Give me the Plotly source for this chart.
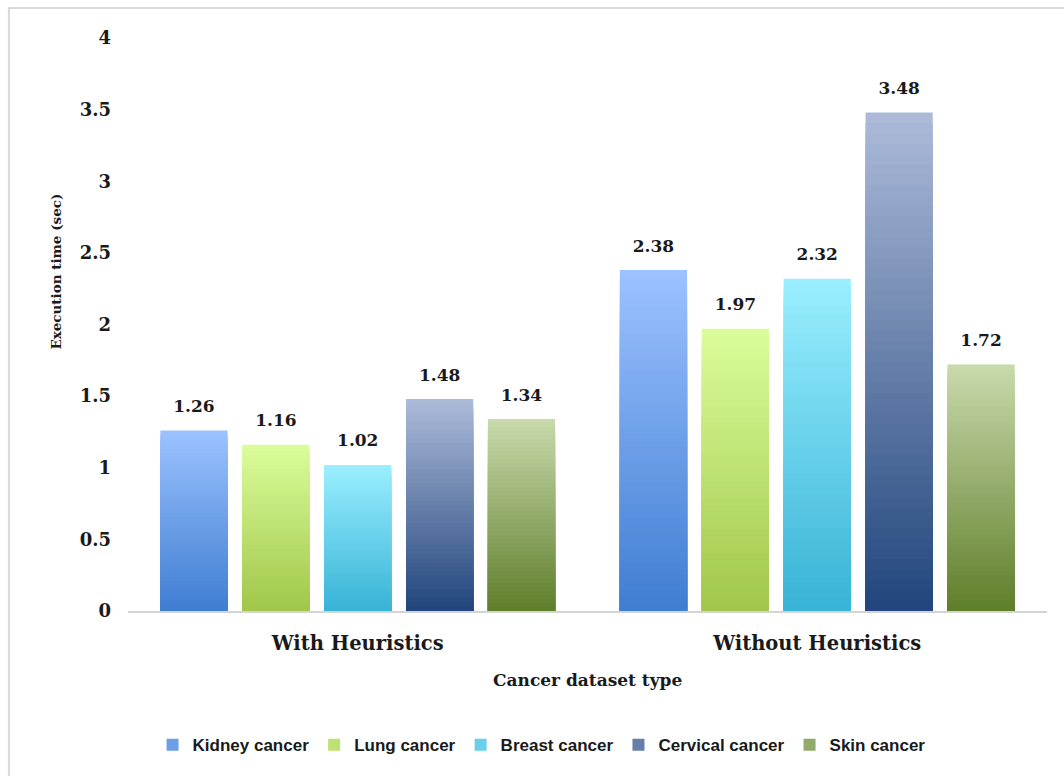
import plotly.graph_objects as go

# Chart data
groups = ["With Heuristics", "Without Heuristics"]
series_names = ["Kidney cancer", "Lung cancer", "Breast cancer", "Cervical cancer", "Skin cancer"]
kidney = [1.26, 2.38]
lung = [1.16, 1.97]
breast = [1.02, 2.32]
cervical = [1.48, 3.48]
skin = [1.34, 1.72]
series_values = [kidney, lung, breast, cervical, skin]

# Vertical gradient colours (top, bottom) for each series
gradient_top = ["#9CC2FF", "#DBFD9B", "#9AEFFF", "#ADBBD9", "#C9DAAC"]
gradient_bottom = ["#3F7DD2", "#A1C64A", "#38B3D6", "#21457C", "#5F7E2A"]

N_STEPS = 48
SERIF = "DejaVu Serif"


def hex_to_rgb(h):
    h = h.lstrip("#")
    return tuple(int(h[i:i + 2], 16) for i in (0, 2, 4))


def blend(c_top, c_bot, t):
    a, b = hex_to_rgb(c_top), hex_to_rgb(c_bot)
    r = [round(b[i] + (a[i] - b[i]) * t) for i in range(3)]
    return f"rgb({r[0]},{r[1]},{r[2]})"


fig = go.Figure()

for s, (name, vals) in enumerate(zip(series_names, series_values)):
    # Each bar is a pile of overlapping bars from zero, tallest first, each
    # shorter one painted over the last, which yields a seamless vertical gradient
    for k in range(N_STEPS):
        frac = (N_STEPS - k) / N_STEPS
        t = (N_STEPS - k - 0.5) / N_STEPS
        fig.add_trace(go.Bar(
            x=groups,
            y=[v * frac for v in vals],
            offsetgroup=str(s),
            legendgroup=name,
            name=name,
            showlegend=(k == N_STEPS // 2),
            legendrank=s + 1,
            marker=dict(color=blend(gradient_top[s], gradient_bottom[s], t), line=dict(width=0)),
            hoverinfo="skip",
        ))
    # Value labels sitting above each bar
    fig.add_trace(go.Bar(
        x=groups,
        y=[0.08 for _ in vals],
        base=vals,
        offsetgroup=str(s),
        legendgroup=name,
        showlegend=False,
        marker=dict(color="rgba(0,0,0,0)", line=dict(width=0)),
        text=[f"{v:.2f}" for v in vals],
        textposition="outside",
        textfont=dict(family=SERIF, size=17, color="#1a1a1a", weight="bold"),
        cliponaxis=False,
        hoverinfo="skip",
    ))

fig.update_layout(
    width=1064,
    height=776,
    margin=dict(l=128, r=17, t=38, b=165),
    paper_bgcolor="white",
    plot_bgcolor="white",
    barmode="group",
    bargap=0.109,
    bargroupgap=0.18,
    showlegend=True,
    legend=dict(
        orientation="h",
        x=0.45, xanchor="center",
        y=-0.234, yanchor="middle",
        font=dict(family="Liberation Sans Narrow, Liberation Sans, sans-serif", size=17, color="#1a1a1a", weight="bold"),
        itemwidth=30,
        tracegroupgap=0,
        traceorder="normal",
    ),
    xaxis=dict(
        showgrid=False,
        zeroline=False,
        showline=True,
        linecolor="#D4D4D4",
        linewidth=2,
        ticks="",
        ticklabelstandoff=14,
        tickfont=dict(family=SERIF, size=19.5, color="#1a1a1a", weight="bold"),
    ),
    yaxis=dict(
        range=[0, 4],
        dtick=0.5,
        showgrid=False,
        zeroline=False,
        showline=False,
        ticks="",
        ticklabelstandoff=16,
        tickfont=dict(family=SERIF, size=18, color="#1a1a1a", weight="bold"),
    ),
    annotations=[
        dict(
            text="Execution time (sec)",
            xref="paper", yref="paper",
            x=-0.0779, y=0.593,
            xanchor="center", yanchor="middle",
            textangle=-90,
            showarrow=False,
            font=dict(family=SERIF, size=13.5, color="#1a1a1a", weight="bold"),
        ),
        dict(
            text="Cancer dataset type",
            xref="paper", yref="paper",
            x=0.5, y=-0.1204,
            xanchor="center", yanchor="middle",
            showarrow=False,
            font=dict(family=SERIF, size=17, color="#1a1a1a", weight="bold"),
        ),
    ],
    shapes=[
        dict(
            type="rect",
            xref="paper", yref="paper",
            x0=-0.1296, x1=1.2,
            y0=-0.4, y1=1.0524,
            line=dict(color="#D9D9D9", width=2),
            fillcolor="rgba(0,0,0,0)",
            layer="below",
        ),
    ],
)

fig.write_html("out.html")
